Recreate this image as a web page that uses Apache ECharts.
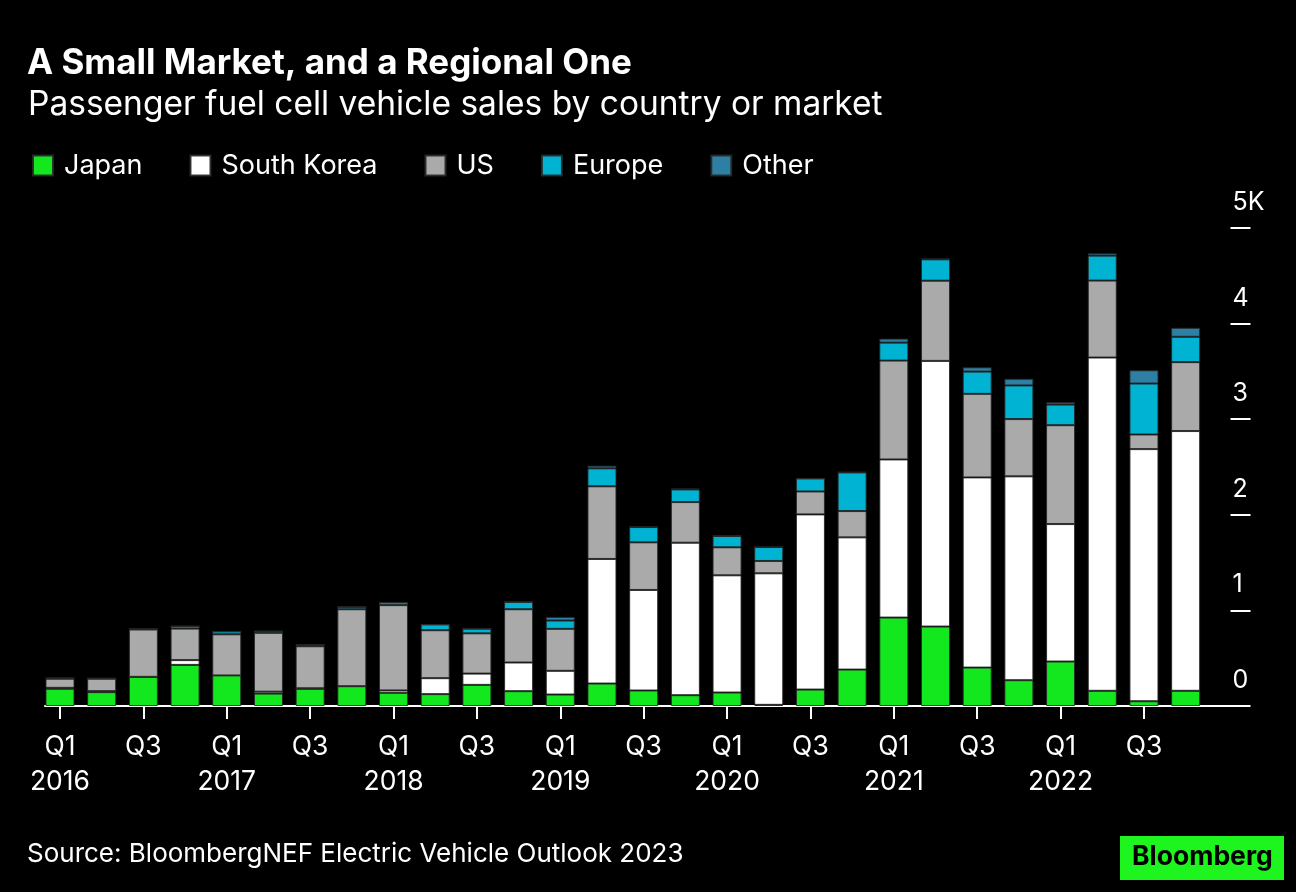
<!DOCTYPE html>
<html><head><meta charset="utf-8">
<script src="https://cdn.jsdelivr.net/npm/echarts@6/dist/echarts.min.js"></script>
<style>html,body{margin:0;padding:0;background:#000;}#c{width:1296px;height:892px;}</style>
</head><body><div id="c"></div>
<script>
const quarters = ['Q1 2016','Q2 2016','Q3 2016','Q4 2016','Q1 2017','Q2 2017','Q3 2017','Q4 2017',
  'Q1 2018','Q2 2018','Q3 2018','Q4 2018','Q1 2019','Q2 2019','Q3 2019','Q4 2019',
  'Q1 2020','Q2 2020','Q3 2020','Q4 2020','Q1 2021','Q2 2021','Q3 2021','Q4 2021',
  'Q1 2022','Q2 2022','Q3 2022','Q4 2022'];
const japan  = [180,145,305,430,320,130,180,207,138,124,221,155,120,235,162,113,141,12,172,381,925,831,402,270,465,159,50,159];
const korea  = [10,10,0,50,0,20,5,0,25,167,118,300,248,1303,1052,1595,1226,1376,1832,1383,1654,2779,1989,2132,1438,3486,2637,2717];
const us     = [95,130,495,330,430,615,440,805,892,502,421,557,439,760,498,425,293,129,240,275,1034,839,874,599,1034,805,153,721];
const europe = [8,5,6,25,30,18,15,25,28,60,49,77,87,188,160,132,118,146,136,404,188,223,233,352,216,261,533,265];
const other  = [0,0,0,0,0,0,0,0,0,0,0,0,38,28,5,10,5,0,0,5,42,8,45,70,24,24,139,94];
const yTicks = [0,1000,2000,3000,4000,5000];
const yTickLabels = ['0','1','2','3','4','5K'];

const F = 'Inter';
const colors = {Japan:'#13e81f','South Korea':'#ffffff',US:'#aaaaaa',Europe:'#00b3d2',Other:'#2e7fa4'};
const seriesDefs = [['Japan',japan],['South Korea',korea],['US',us],['Europe',europe],['Other',other]];

const chart = echarts.init(document.getElementById('c'), null, {renderer:'canvas'});
chart.setOption({
  backgroundColor:'#000',
  animation:false,
  title:[
    {text:'A Small Market, and a Regional One', left:22, top:40,
     textStyle:{color:'#fff', fontFamily:F, fontWeight:'bold', fontSize:35, lineHeight:36}},
    {text:'Passenger fuel cell vehicle sales by country or market', left:23, top:83,
     textStyle:{color:'#fff', fontFamily:F, fontWeight:'normal', fontSize:33.5, lineHeight:34}}
  ],
  legend:{
    left:27, top:147, itemWidth:20, itemHeight:20, itemGap:47, icon:'rect',
    data:seriesDefs.map(d=>d[0]),
    textStyle:{color:'#fff', fontFamily:F, fontSize:27, lineHeight:27, padding:[0,0,0,6]},
    selectedMode:false
  },
  grid:[
    {left:39.15, right:89.5, top:228, bottom:186, containLabel:false},
    {left:45, right:48, top:228, bottom:186, containLabel:false}
  ],
  xAxis:[
    {type:'category', gridIndex:0, data:quarters, boundaryGap:true,
     axisLine:{show:false},
     axisTick:{show:true, alignWithLabel:true, interval:1, length:13, lineStyle:{color:'#fff', width:2}},
     axisLabel:{interval:1, margin:24, color:'#fff', fontFamily:F, fontSize:26.5, lineHeight:35,
       formatter:function(v){const p=v.split(' '); return p[0]==='Q1' ? p[0]+'\n'+p[1] : p[0];}},
     splitLine:{show:false}},
    {type:'value', gridIndex:1, min:0, max:1, show:true,
     axisLine:{show:true, onZero:false, lineStyle:{color:'#fff', width:2}},
     axisTick:{show:false}, axisLabel:{show:false}, splitLine:{show:false}}
  ],
  yAxis:[
    {type:'value', gridIndex:0, position:'right', min:0, max:5000, interval:1000, offset:24,
     axisLine:{show:false},
     axisTick:{show:true, length:20, inside:false, lineStyle:{color:'#fff', width:2}},
     axisLabel:{show:true, margin:2, align:'left', verticalAlign:'bottom', padding:[0,0,13,0],
       color:'#fff', fontFamily:F, fontSize:25, lineHeight:25,
       formatter:function(v){const i=yTicks.indexOf(v); return i>=0?yTickLabels[i]:'';}},
     splitLine:{show:false}},
    {type:'value', gridIndex:1, min:0, max:1, show:false}
  ],
  series:seriesDefs.map(([name,vals])=>({
    name, type:'bar', stack:'total', xAxisIndex:0, yAxisIndex:0, barWidth:29,
    data:vals,
    itemStyle:{color:colors[name], borderColor:'rgba(40,40,40,0.9)', borderWidth:1},
    emphasis:{disabled:true}
  })),
  graphic:[
    {type:'text', left:27, top:841, style:{text:'Source: BloombergNEF Electric Vehicle Outlook 2023',
      fill:'#fff', font:'26px Inter'}},
    {type:'rect', left:1120, top:836, shape:{width:164, height:44}, style:{fill:'#1ef51e'}},
    {type:'text', left:1132, top:844, style:{text:'Bloomberg', fill:'#000', font:'bold 26.5px Inter'}}
  ]
});
</script></body></html>
